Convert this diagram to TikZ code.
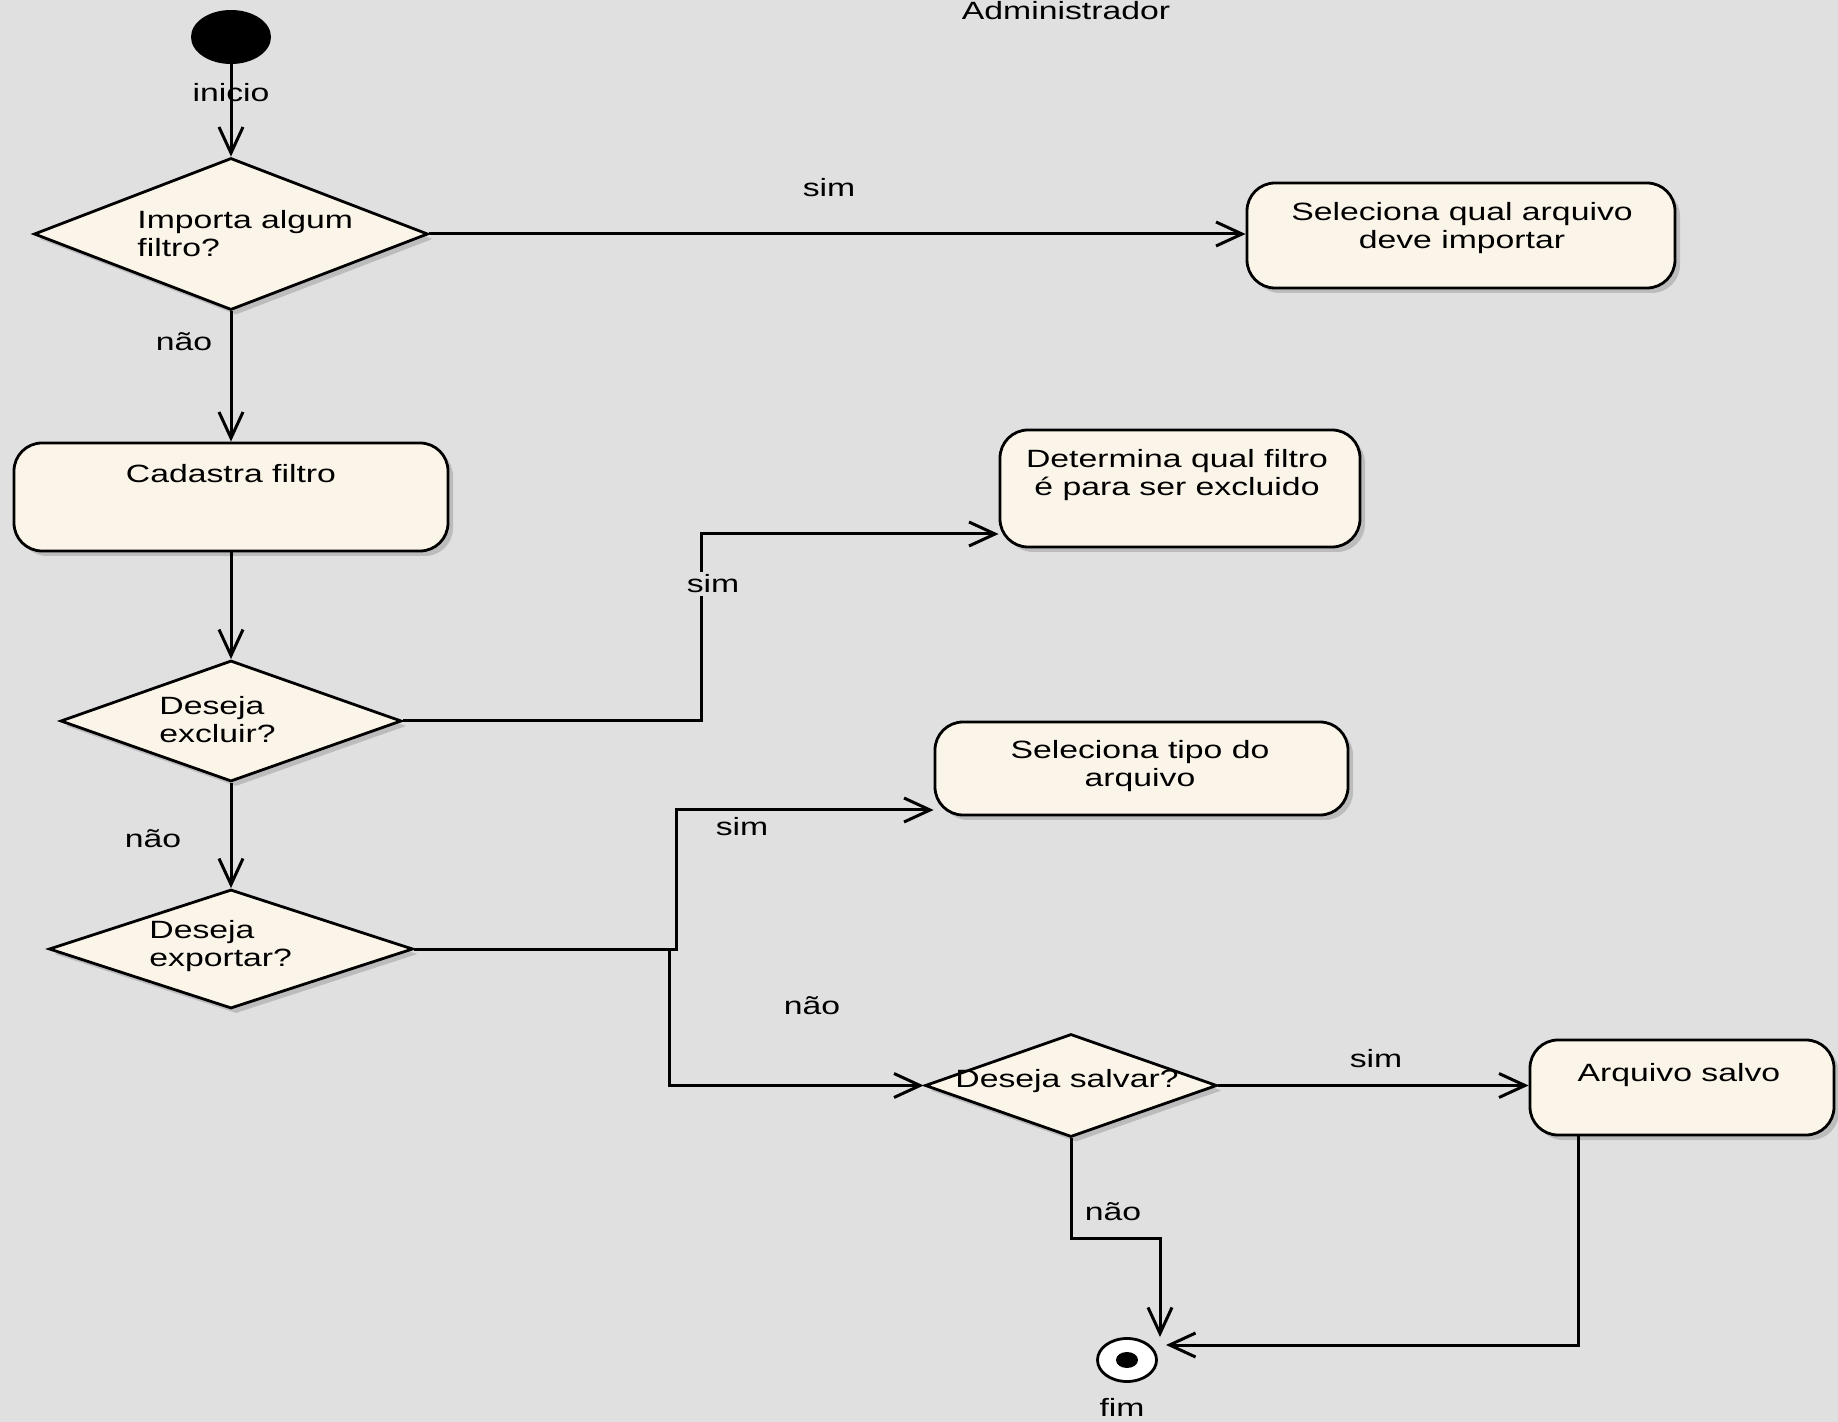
\documentclass[tikz,border=0pt]{standalone}
\usepackage{fontspec}
\setmainfont[FakeStretch=1.35]{Liberation Sans}
\usetikzlibrary{shapes.geometric,arrows.meta,shadows}
\definecolor{bgc}{HTML}{E0E0E0}
\definecolor{nodec}{HTML}{FBF5E9}
\definecolor{shc}{HTML}{B4B4B4}
\begin{document}
\begin{tikzpicture}[x=0.5pt,y=-0.5pt, font=\fontsize{12.5}{14}\selectfont,
  base/.style={draw=black, line width=1.4pt, fill=nodec, drop shadow={shadow xshift=2.5pt, shadow yshift=-2.5pt, fill=shc, opacity=0.8}},
  act/.style={base, rectangle, rounded corners=14pt, inner sep=0pt},
  dec/.style={base, diamond, inner sep=0pt},
  txt/.style={inner sep=0pt, align=center},
  lbl/.style={inner sep=1.5pt, fill=bgc},
  conn/.style={line width=1.5pt},
  arr/.style={conn, -{Straight Barb[length=13pt,width=12pt,line width=1.5pt]}}
]
\fill[bgc] (0,0) rectangle (1838,1422);
\useasboundingbox (0,0) rectangle (1838,1422);

% nodes
\node[ellipse, fill=black, minimum width=40pt, minimum height=27pt, inner sep=0pt] (start) at (231,37) {};

\node[dec, minimum width=197pt, minimum height=76pt] (d1) at (231,234) {};
\node[txt, anchor=west, align=left] (d1t) at (137,234) {Importa algum\\filtro?};

\node[act, minimum width=214pt, minimum height=52.5pt] (sel1) at (1461,235.5) {};
\node[txt] (sel1t) at (1462,228) {Seleciona qual arquivo\\deve importar};

\node[act, minimum width=217pt, minimum height=54pt] (cad) at (231,497) {};
\node[txt] (cadt) at (231,474) {Cadastra filtro};

\node[dec, minimum width=170.5pt, minimum height=60.5pt] (d2) at (231,721) {};
\node[txt, anchor=west, align=left] (d2t) at (159,720) {Deseja\\excluir?};

\node[act, minimum width=180pt, minimum height=58.5pt] (det) at (1180,488.5) {};
\node[txt] (dett) at (1177,475) {Determina qual filtro\\é para ser excluido};

\node[dec, minimum width=182pt, minimum height=59.5pt] (d3) at (231,949) {};
\node[txt, anchor=west, align=left] (d3t) at (149,946) {Deseja\\exportar?};

\node[act, minimum width=206.5pt, minimum height=46.5pt] (tipo) at (1141.5,768.5) {};
\node[txt] (tipot) at (1140,766) {Seleciona tipo do\\arquivo};

\node[dec, minimum width=146pt, minimum height=51.5pt] (sal) at (1071,1085.5) {};
\node[txt] (salt) at (1067,1081) {Deseja salvar?};

\node[act, minimum width=152pt, minimum height=47.5pt] (arq) at (1682,1087.5) {};
\node[txt] (arqt) at (1679,1075) {Arquivo salvo};

\node[ellipse, draw=black, line width=1.4pt, fill=white, minimum width=29.5pt, minimum height=21.5pt, inner sep=0pt] (fim) at (1127,1360) {};
\node[ellipse, fill=black, minimum width=11pt, minimum height=8pt, inner sep=0pt] (fimdot) at (1127,1360) {};

% connectors
\draw[arr] (start) -- (d1);
\draw[arr] (d1) -- (cad);
\draw[arr] (cad) -- (d2);
\draw[arr] (d2) -- (d3);
\draw[arr] (d1.east) -- (d1.east -| sel1.west);

\coordinate (j1) at (701,534);
\draw[arr] (d2.east) -| (j1) -- (j1 -| det.west);

\coordinate (j2) at (676,810);
\draw[arr] (d3.east) -| (j2) -- (j2 -| tipo.west);
\coordinate (j3) at (669,949);
\draw[arr] (j3) |- (sal.west);

\draw[arr] (sal.east) -- (sal.east -| arq.west);

\coordinate (n1) at (1160,1238);
\coordinate (e1) at (1160,1337);
\draw[arr] (sal.south) |- (n1) -- (e1);

\coordinate (a1) at (1578,1345);
\coordinate (e2) at (1166,1345);
\draw[arr] (arq.south -| a1) -- (a1) -- (e2);

% labels
\node (linicio) at (231,93) {inicio};
\node (lsim1) at (829,188) {sim};
\node (lnao1) at (184,342) {não};
\node[lbl] (lsim2) at (713,584) {sim};
\node (lnao2) at (153,839) {não};
\node (lsim3) at (742,827) {sim};
\node (lnao3) at (812,1006) {não};
\node (lsim4) at (1376,1059) {sim};
\node (lnao4) at (1113,1212) {não};
\node (lfim) at (1122,1407) {fim};
\node[anchor=base] (adm) at (1066,20) {Administrador};
\end{tikzpicture}
\end{document}
